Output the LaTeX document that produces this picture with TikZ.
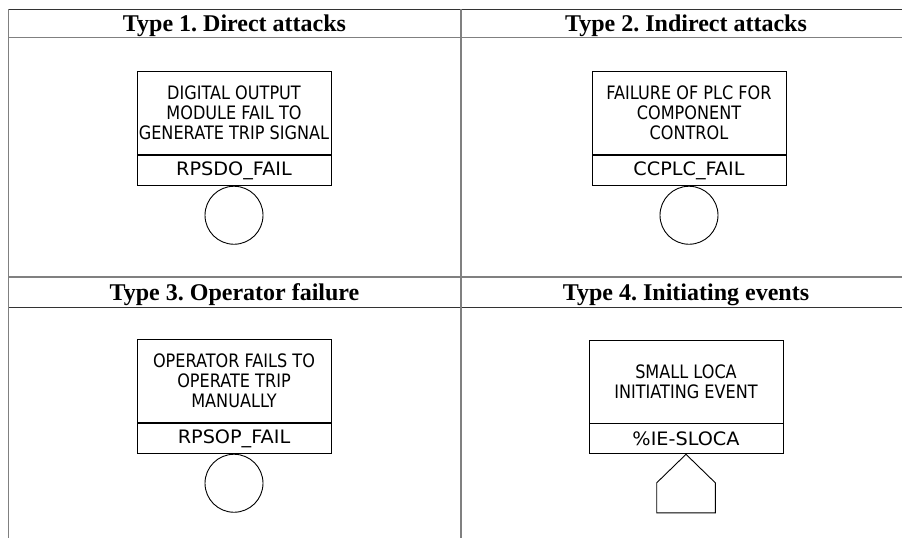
\documentclass[tikz,border=0pt]{standalone}
\usepackage{fontspec}
\setmainfont{Liberation Serif}
\newfontfamily\boxfont[FakeStretch=0.87]{DejaVu Sans}
\newfontfamily\labfont[FakeStretch=1.04]{DejaVu Sans}
\definecolor{gridgray}{HTML}{808080}
\definecolor{griddark}{HTML}{333333}
\frenchspacing
\begin{document}
\begin{tikzpicture}[x=1pt,y=-1pt,
  gline/.style={draw=gridgray,line width=1.3pt},
  dline/.style={draw=griddark,line width=1pt},
  hdr/.style={font=\fontsize{24}{24}\selectfont\bfseries\frenchspacing,anchor=base,inner sep=0pt},
  evbox/.style={draw,line width=0.9pt,minimum width=194pt,minimum height=83pt,inner sep=0pt,align=center,anchor=north,font=\boxfont\fontsize{18.5}{20.3}\selectfont},
  labbox/.style={draw,line width=0.9pt,minimum width=194pt,minimum height=30pt,inner sep=0pt,anchor=north,font=\labfont\fontsize{18.5}{20}\selectfont},
  basicev/.style={draw,circle,line width=0.9pt,minimum size=58pt,inner sep=0pt,anchor=north},
  house/.style={draw,line width=0.9pt,line join=miter}
]
\useasboundingbox (0,0) rectangle (902,538);
% table grid
\draw[dline] (8,9) -- (902,9);
\draw[gline] (8,37.5) -- (902,37.5);
\draw[gline] (8,277) -- (902,277);
\draw[dline] (8,307) -- (902,307);
\draw[gline] (8.5,9) -- (8.5,538);
\draw[gline] (461,9) -- (461,538);
% headers
\node[hdr] (h1) at (234.5,31) {Type 1. Direct attacks};
\node[hdr] (h2) at (686,31) {Type 2. Indirect attacks};
\node[hdr] (h3) at (234.5,300) {Type 3. Operator failure};
\node[hdr] (h4) at (686,300) {Type 4. Initiating events};
% type 1
\node[evbox] (b1) at (234,71) {DIGITAL OUTPUT\\MODULE FAIL TO\\GENERATE TRIP SIGNAL};
\node[labbox] (l1) at (b1.south) {RPSDO\_FAIL};
\node[basicev] (c1) at (l1.south) {};
% type 2
\node[evbox] (b2) at (689,71) {FAILURE OF PLC FOR\\COMPONENT\\CONTROL};
\node[labbox] (l2) at (b2.south) {CCPLC\_FAIL};
\node[basicev] (c2) at (l2.south) {};
% type 3
\node[evbox] (b3) at (234,339) {OPERATOR FAILS TO\\OPERATE TRIP\\MANUALLY};
\node[labbox] (l3) at (b3.south) {RPSOP\_FAIL};
\node[basicev] (c3) at (l3.south) {};
% type 4
\node[evbox] (b4) at (686,339.5) {SMALL LOCA\\INITIATING EVENT};
\node[labbox] (l4) at (b4.south) {\%IE-SLOCA};
\draw[house] (l4.south) -- ++(29.3,28.5) -- ++(0,30) -- ++(-58.6,0) -- ++(0,-30) -- cycle;
\end{tikzpicture}
\end{document}
